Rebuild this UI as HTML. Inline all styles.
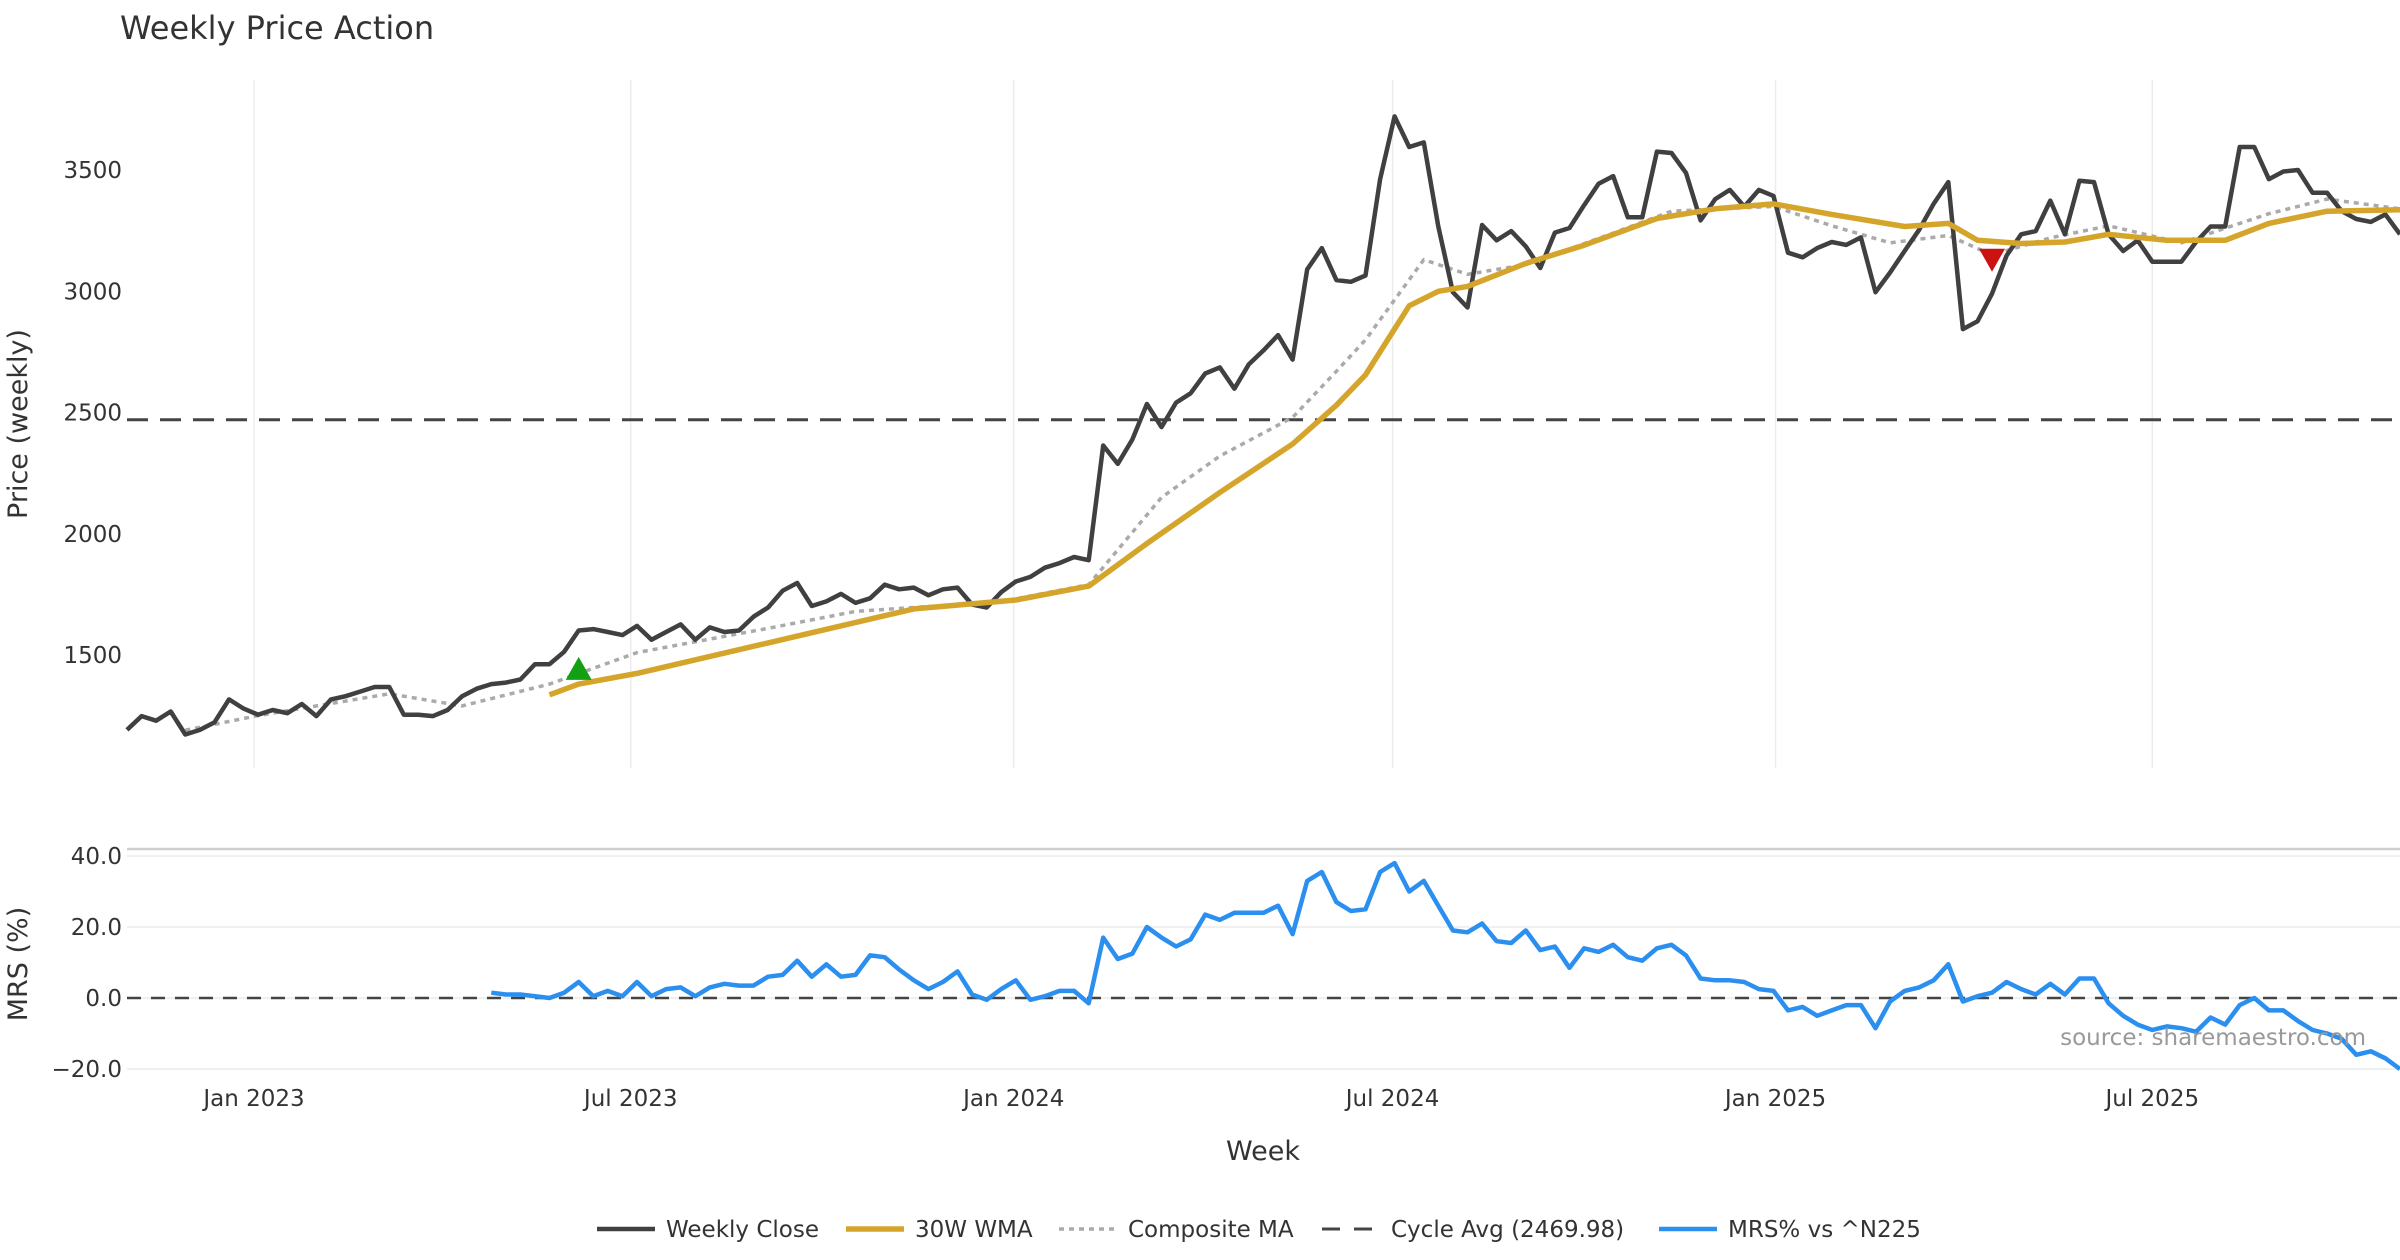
<!DOCTYPE html>
<html><head><meta charset="utf-8"><style>
html,body{margin:0;padding:0;background:#fff;}
svg{display:block;font-family:"DejaVu Sans","Liberation Sans",sans-serif;}
</style></head><body>
<svg id="chart" width="2400" height="1260" viewBox="0 0 2400 1260" xmlns="http://www.w3.org/2000/svg">
<text x="120" y="39" font-size="32" fill="#333">Weekly Price Action</text>
<text transform="translate(27,424) rotate(-90)" text-anchor="middle" font-size="27" fill="#333">Price (weekly)</text>
<text transform="translate(27,964) rotate(-90)" text-anchor="middle" font-size="27" fill="#333">MRS (%)</text>
<text x="1263" y="1160" text-anchor="middle" font-size="27" fill="#333">Week</text>
<g id="grid"></g>
<g id="series"></g>
<g id="axes"></g>
<text x="2366" y="1045" text-anchor="end" font-size="23" fill="#999">source: sharemaestro.com</text>
<g id="legend"></g>
</svg>
<script>
const closeValues=[1191,1248,1229,1267,1172,1191,1222,1317,1279,1254,1273,1260,1298,1248,1317,1330,1349,1368,1368,1254,1254,1248,1273,1330,1361,1380,1386,1399,1462,1462,1513,1601,1607,1595,1582,1620,1563,1595,1626,1563,1614,1595,1601,1658,1696,1765,1797,1702,1721,1752,1715,1734,1790,1771,1778,1746,1771,1778,1708,1696,1759,1803,1822,1860,1879,1904,1891,2364,2288,2389,2535,2440,2541,2579,2661,2686,2598,2699,2756,2819,2718,3090,3178,3046,3039,3065,3462,3721,3595,3614,3267,2996,2933,3273,3210,3248,3185,3096,3242,3261,3355,3443,3475,3305,3305,3576,3570,3488,3292,3380,3418,3349,3418,3393,3159,3140,3178,3203,3191,3222,2996,3077,3166,3254,3361,3450,2844,2876,2990,3147,3235,3248,3374,3235,3456,3450,3235,3166,3210,3122,3122,3122,3203,3267,3267,3595,3595,3462,3494,3500,3406,3406,3330,3298,3286,3317,3235];
const wmaWeeks=[29,31,35,44,54,61,66,70,75,80,83,85,88,90,92,96,100,105,109,113,117,122,125,127,130,133,136,140,144,147,151,156];
const wmaValues=[1336,1380,1424,1550,1690,1727,1784,1960,2170,2370,2530,2655,2940,3000,3020,3115,3190,3300,3340,3360,3317,3267,3280,3210,3197,3203,3235,3210,3210,3280,3330,3336];
const compWeeks=[4,9,18,23,29,35,44,50,60,66,71,75,80,83,85,89,92,96,102,106,113,117,121,125,128,132,136,141,147,151,156];
const compValues=[1190,1250,1340,1290,1380,1510,1610,1680,1720,1790,2150,2320,2480,2670,2800,3130,3070,3110,3240,3330,3350,3270,3200,3230,3150,3220,3270,3200,3320,3380,3340];
const mrsValues=[1.5,1.0,1.0,0.5,0.0,1.5,4.5,0.5,2.0,0.5,4.5,0.5,2.5,3.0,0.5,3.0,4.0,3.5,3.5,6.0,6.5,10.5,6.0,9.5,6.0,6.5,12.0,11.5,8.0,5.0,2.5,4.5,7.5,1.0,-0.5,2.5,5.0,-0.5,0.5,2.0,2.0,-1.5,17.0,11.0,12.5,20.0,17.0,14.5,16.5,23.5,22.0,24.0,24.0,24.0,26.0,18.0,33.0,35.5,27.0,24.5,25.0,35.5,38.0,30.0,33.0,26.0,19.0,18.5,21.0,16.0,15.5,19.0,13.5,14.5,8.5,14.0,13.0,15.0,11.5,10.5,14.0,15.0,12.0,5.5,5.0,5.0,4.5,2.5,2.0,-3.5,-2.5,-5.0,-3.5,-2.0,-2.0,-8.5,-1.0,2.0,3.0,5.0,9.5,-1.0,0.5,1.5,4.5,2.5,1.0,4.0,1.0,5.5,5.5,-1.5,-5.0,-7.5,-9.0,-8.0,-8.5,-9.5,-5.5,-7.5,-2.0,0.0,-3.5,-3.5,-6.5,-9.0,-10.0,-11.5,-16.0,-15.0,-17.0,-20.0];
const cycleAvg=2469.98;
const buySignal=[31,1443];
const sellSignal=[128,3130];
const priceTicks=[1500,2000,2500,3000,3500];
const mrsTicks=[40,20,0,-20];
const mrsTickLabels=["40.0","20.0","0.0","\u221220.0"];
const xTickDates=["2023-01-01","2023-07-01","2024-01-01","2024-07-01","2025-01-01","2025-07-01"];
const xTickLabels=["Jan 2023","Jul 2023","Jan 2024","Jul 2024","Jan 2025","Jul 2025"];

const NS="http://www.w3.org/2000/svg";
const X0=127,X1=2400,N=closeValues.length;
const step=(X1-X0)/(N-1);
const startDate=new Date("2022-11-01").getTime();
function xIdx(i){return X0+i*step;}
function xDate(d){return xIdx((new Date(d).getTime()-startDate)/(7*864e5));}
function yP(v){return 655-(v-1500)*0.2425;}
function yM(v){return 998-v*3.55;}
function mk(tag,attrs,parent){const e=document.createElementNS(NS,tag);for(const k in attrs)e.setAttribute(k,attrs[k]);parent.appendChild(e);return e;}
const gridG=document.getElementById('grid'),serG=document.getElementById('series'),axG=document.getElementById('axes'),legG=document.getElementById('legend');

xTickDates.forEach((d,i)=>{
  const x=xDate(d);
  let l=mk('line',{x1:x,x2:x,y1:80,y2:768,stroke:'#ececec','stroke-width':1.5},gridG);
  
  
  let t=mk('text',{x:x,y:1106,'text-anchor':'middle','font-size':23,fill:'#333'},axG);
  t.textContent=xTickLabels[i];
  
  
});
priceTicks.forEach(v=>{
  let t=mk('text',{x:122,y:yP(v)+8,'text-anchor':'end','font-size':23,fill:'#333'},axG);
  t.textContent=v;
  
  
});
mrsTicks.forEach((v,i)=>{
  let l=mk('line',{x1:X0,x2:X1,y1:yM(v),y2:yM(v),stroke:'#ececec','stroke-width':1.5},gridG);
  
  
  let t=mk('text',{x:122,y:yM(v)+8,'text-anchor':'end','font-size':23,fill:'#333'},axG);
  t.textContent=mrsTickLabels[i];
  
  
});
let topBorder=mk('line',{x1:X0,x2:X1,y1:849,y2:849,stroke:'#cfcfcf','stroke-width':2.5},gridG);



function path(pts,attrs,name){
  const d=pts.map((p,i)=>(i?'L':'M')+p[0].toFixed(1)+','+p[1].toFixed(1)).join('');
  const e=mk('path',Object.assign({d:d,fill:'none','stroke-linejoin':'round'},attrs),serG);
  
  
  return e;
}
let cy=mk('line',{x1:X0,x2:X1,y1:yP(cycleAvg),y2:yP(cycleAvg),stroke:'#444','stroke-width':3,'stroke-dasharray':'21,12'},serG);


path(compWeeks.map((w,i)=>[xIdx(w),yP(compValues[i])]),{stroke:'#aaaaaa','stroke-width':3.5,'stroke-dasharray':'5,5'},'composite-ma-line');
path(closeValues.map((v,i)=>[xIdx(i),yP(v)]),{stroke:'#404040','stroke-width':4.5},'weekly-close-line');
path(wmaWeeks.map((w,i)=>[xIdx(w),yP(wmaValues[i])]),{stroke:'#d4a52a','stroke-width':5.5},'wma-30w-line');
let zl=mk('line',{x1:X0,x2:X1,y1:yM(0),y2:yM(0),stroke:'#444','stroke-width':2.5,'stroke-dasharray':'14,10'},serG);


const mStart=N-mrsValues.length;
path(mrsValues.map((v,i)=>[xIdx(mStart+i),yM(v)]),{stroke:'#2b8ff0','stroke-width':4.5},'mrs-line');
{const x=xIdx(buySignal[0]),y=yP(buySignal[1]);
 let t=mk('polygon',{points:`${x-13},${y+11} ${x+13},${y+11} ${x},${y-12}`,fill:'#14a014'},serG);
 
 }
{const x=xIdx(sellSignal[0]),y=yP(sellSignal[1]);
 let t=mk('polygon',{points:`${x-13},${y-11} ${x+13},${y-11} ${x},${y+12}`,fill:'#cc1111'},serG);
 
 }

const legItems=[[597,'Weekly Close','#404040',4.5,''],[846,'30W WMA','#d4a52a',5.5,''],[1059,'Composite MA','#aaaaaa',3.5,'5,5'],[1322,'Cycle Avg (2469.98)','#444',3,'18,14'],[1659,'MRS% vs ^N225','#2b8ff0',4.5,'']];
legItems.forEach(it=>{
  const g=mk('g',{},legG);
  
  
  mk('line',{x1:it[0],x2:it[0]+58,y1:1229,y2:1229,stroke:it[2],'stroke-width':it[3],'stroke-dasharray':it[4]},g);
  const t=mk('text',{x:it[0]+69,y:1237,'font-size':23,fill:'#333'},g);
  t.textContent=it[1];
});
</script>
</body></html>
